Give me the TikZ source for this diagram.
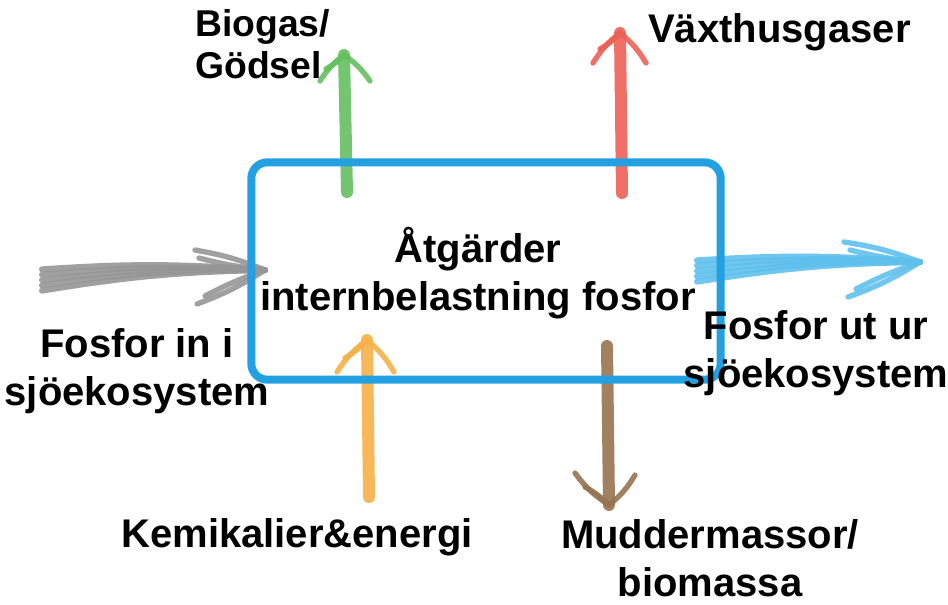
\documentclass[tikz,border=0pt]{standalone}
\usepackage{fontspec}
\setmainfont{Liberation Sans}
\usepackage{xcolor}
\usepackage{tikz}
\usetikzlibrary{positioning}
\definecolor{boxblue}{RGB}{35,160,225}
\definecolor{greyarr}{RGB}{150,150,150}
\definecolor{skyarr}{RGB}{95,192,236}
\definecolor{greenarr}{RGB}{100,192,95}
\definecolor{redarr}{RGB}{236,96,86}
\definecolor{orangearr}{RGB}{246,176,72}
\definecolor{brownarr}{RGB}{150,116,82}
\tikzset{
  lbl/.style   ={font=\bfseries\fontsize{30}{36}\selectfont, align=center, inner sep=0pt},
  bristle/.style={line width=4.5pt, line cap=round, opacity=.9},
  shaft/.style ={line width=9pt, line cap=round, opacity=.9},
  hd/.style    ={line width=4pt, line cap=round, opacity=.9},
}

\begin{document}
\begin{tikzpicture}[x=0.75pt,y=-0.75pt]
\useasboundingbox (0,0) rectangle (948,604);

% arrow ends
\coordinate (inS) at (42,280);   \coordinate (inT) at (265,270);
\coordinate (outS) at (697,271); \coordinate (outT) at (920,262);
\coordinate (gB) at (347,192);   \coordinate (gT) at (344,55);
\coordinate (rB) at (622,193);   \coordinate (rT) at (620,33);
\coordinate (oB) at (369,497);   \coordinate (oT) at (367,340);
\coordinate (bS) at (607,346);   \coordinate (bT) at (609,505);

% in and out (fanned strokes)
\foreach \o in {-8,-4,0,4,8}{
  \draw[bristle,greyarr] ([yshift=\o]inS) to[bend left=4] (inT);
  \draw[bristle,skyarr] ([yshift=\o]outS) to[bend left=4] (outT);
}
\draw[hd,greyarr] (inT) to[bend right=6] ++(-70,-20);
\draw[hd,greyarr] (inT) to[bend left=4] ++(-66,-12);
\draw[hd,greyarr] (inT) to[bend left=6] ++(-68,34);
\draw[hd,greyarr] (inT) to[bend right=4] ++(-60,26);
\draw[hd,skyarr] (outT) to[bend right=6] ++(-76,-20);
\draw[hd,skyarr] (outT) to[bend left=4] ++(-70,-12);
\draw[hd,skyarr] (outT) to[bend left=6] ++(-72,35);
\draw[hd,skyarr] (outT) to[bend right=4] ++(-64,27);

% up and down
\draw[shaft,greenarr] (gB) -- (gT);
\draw[hd,greenarr] (gT) to[bend right=10] ++(-24,26);
\draw[hd,greenarr] (gT) to[bend left=10] ++(26,26);
\draw[hd,greenarr] (gT) to[bend left=8] ++(-18,14);
\draw[shaft,redarr] (rB) -- (rT);
\draw[hd,redarr] (rT) to[bend right=10] ++(-27,30);
\draw[hd,redarr] (rT) to[bend left=10] ++(26,30);
\draw[hd,redarr] (rT) to[bend left=8] ++(-20,16);
\draw[shaft,orangearr] (oB) -- (oT);
\draw[hd,orangearr] (oT) to[bend right=10] ++(-30,32);
\draw[hd,orangearr] (oT) to[bend left=10] ++(27,32);
\draw[hd,orangearr] (oT) to[bend left=8] ++(-22,18);
\draw[shaft,brownarr] (bS) -- (bT);
\draw[hd,brownarr] (bT) to[bend left=10] ++(-34,-32);
\draw[hd,brownarr] (bT) to[bend right=10] ++(26,-30);
\draw[hd,brownarr] (bT) to[bend right=8] ++(-24,-18);

% box
\node[draw=boxblue, line width=6pt, rounded corners=12pt,
      minimum width=352pt, minimum height=163pt] (box) at (486,271) {};

% texts (base = last line)
\node[lbl,anchor=base] (mid) at (478,310) {Åtgärder\\internbelastning fosfor};
\node[lbl,anchor=base] (inl) at (137,405) {Fosfor in i\\sjöekosystem};
\node[lbl,anchor=base] (outl) at (816,387) {Fosfor ut ur\\sjöekosystem};
\node[lbl,anchor=base west,align=left,font=\bfseries\fontsize{28}{31}\selectfont] (bio) at (195,78) {Biogas/\\Gödsel};
\node[lbl,anchor=base west] (gas) at (648,42) {Växthusgaser};
\node[lbl,anchor=base] (kem) at (297,547) {Kemikalier\&energi};
\node[lbl,anchor=base] (mud) at (710,596) {Muddermassor/\\biomassa};
\end{tikzpicture}
\end{document}
